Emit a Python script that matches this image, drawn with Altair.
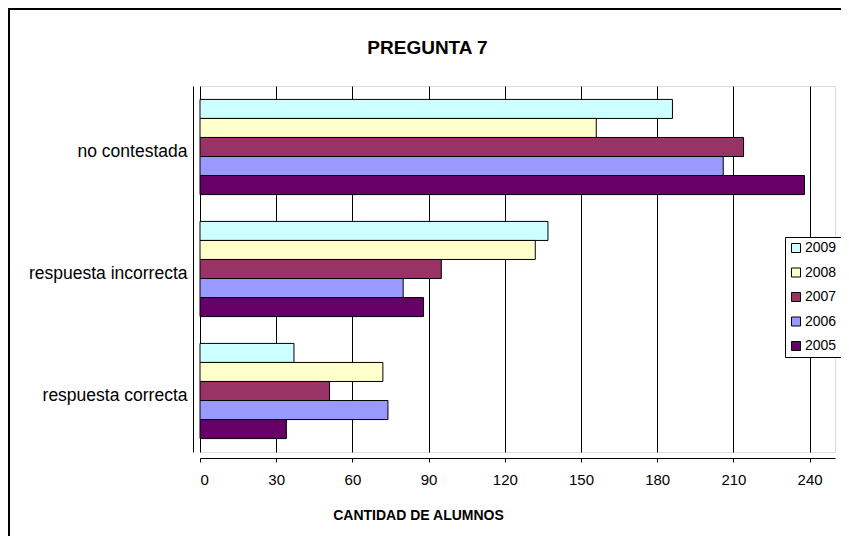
import altair as alt
import pandas as pd

categories = ["no contestada", "respuesta incorrecta", "respuesta correcta"]
years = ["2009", "2008", "2007", "2006", "2005"]
v2009 = [186, 137, 37]
v2008 = [156, 132, 72]
v2007 = [214, 95, 51]
v2006 = [206, 80, 74]
v2005 = [238, 88, 34]
colors = ["#CCFFFF", "#FFFFCC", "#993366", "#9999FF", "#660066"]
x_ticks = [0, 30, 60, 90, 120, 150, 180, 210, 240]

series = {"2009": v2009, "2008": v2008, "2007": v2007, "2006": v2006, "2005": v2005}
rows = []
for yr in years:
    for cat, val in zip(categories, series[yr]):
        rows.append({"categoria": cat, "anio": yr, "valor": val})
df = pd.DataFrame(rows)

FONT = "Liberation Sans"
W, H = 635, 366

bars = alt.Chart(df).mark_bar(stroke="black", strokeWidth=1).encode(
    x=alt.X(
        "valor:Q",
        scale=alt.Scale(domain=[0, 250], nice=False),
        axis=alt.Axis(
            values=x_ticks,
            title="CANTIDAD DE ALUMNOS",
            titleFontSize=14,
            titleFontWeight="bold",
            titleFont=FONT,
            titleColor="black",
            titleX=218,
            titleY=57,
            titleBaseline="middle",
            titleAlign="center",
            labelFont=FONT,
            labelFontSize=15,
            labelColor="black",
            labelPadding=10,
            tickSize=4,
            tickColor="black",
            domainColor="black",
            grid=True,
            gridColor="black",
            gridWidth=1,
            offset=6,
        ),
    ),
    y=alt.Y(
        "categoria:N",
        sort=categories,
        scale=alt.Scale(paddingInner=0.22, paddingOuter=0.11),
        axis=alt.Axis(
            title=None,
            ticks=False,
            labelFont=FONT,
            labelFontSize=17.5,
            labelColor="black",
            labelPadding=6,
            labelOffset=5,
            domainColor="black",
            offset=7,
        ),
    ),
    yOffset=alt.YOffset(
        "anio:N", sort=years, scale=alt.Scale(paddingInner=0, paddingOuter=0)
    ),
    color=alt.Color(
        "anio:N",
        scale=alt.Scale(domain=years, range=colors),
        legend=alt.Legend(
            title=None,
            orient="none",
            legendX=585,
            legendY=151,
            fillColor="white",
            strokeColor="black",
            padding=4,
            symbolType="square",
            symbolSize=81,
            symbolStrokeColor="black",
            symbolStrokeWidth=1,
            labelFont=FONT,
            labelFontSize=14,
            labelColor="black",
            labelOffset=2,
            rowPadding=10.5,
        ),
    ),
)

frame = alt.Chart(pd.DataFrame({"a": [0]})).mark_rect(
    fill=None, stroke="black", strokeWidth=2
).encode(
    x=alt.value(-191),
    x2=alt.value(900),
    y=alt.value(-77),
    y2=alt.value(700),
)

chart = alt.layer(bars, frame).properties(
    width=W,
    height=H,
    padding={"left": 192, "top": 78, "right": 6, "bottom": 84},
    autosize=alt.AutoSizeParams(type="none"),
    title=alt.Title(
        "PREGUNTA 7",
        font=FONT,
        fontSize=19,
        fontWeight="bold",
        color="black",
        anchor="middle",
        frame="group",
        dx=-90,
        baseline="middle",
        offset=-59,
    ),
).configure_view(
    fill="#C0C0C0", stroke="#808080", strokeWidth=1
).configure(background="white")

chart.save("out.html", embed_options={"renderer": "svg", "actions": False})
